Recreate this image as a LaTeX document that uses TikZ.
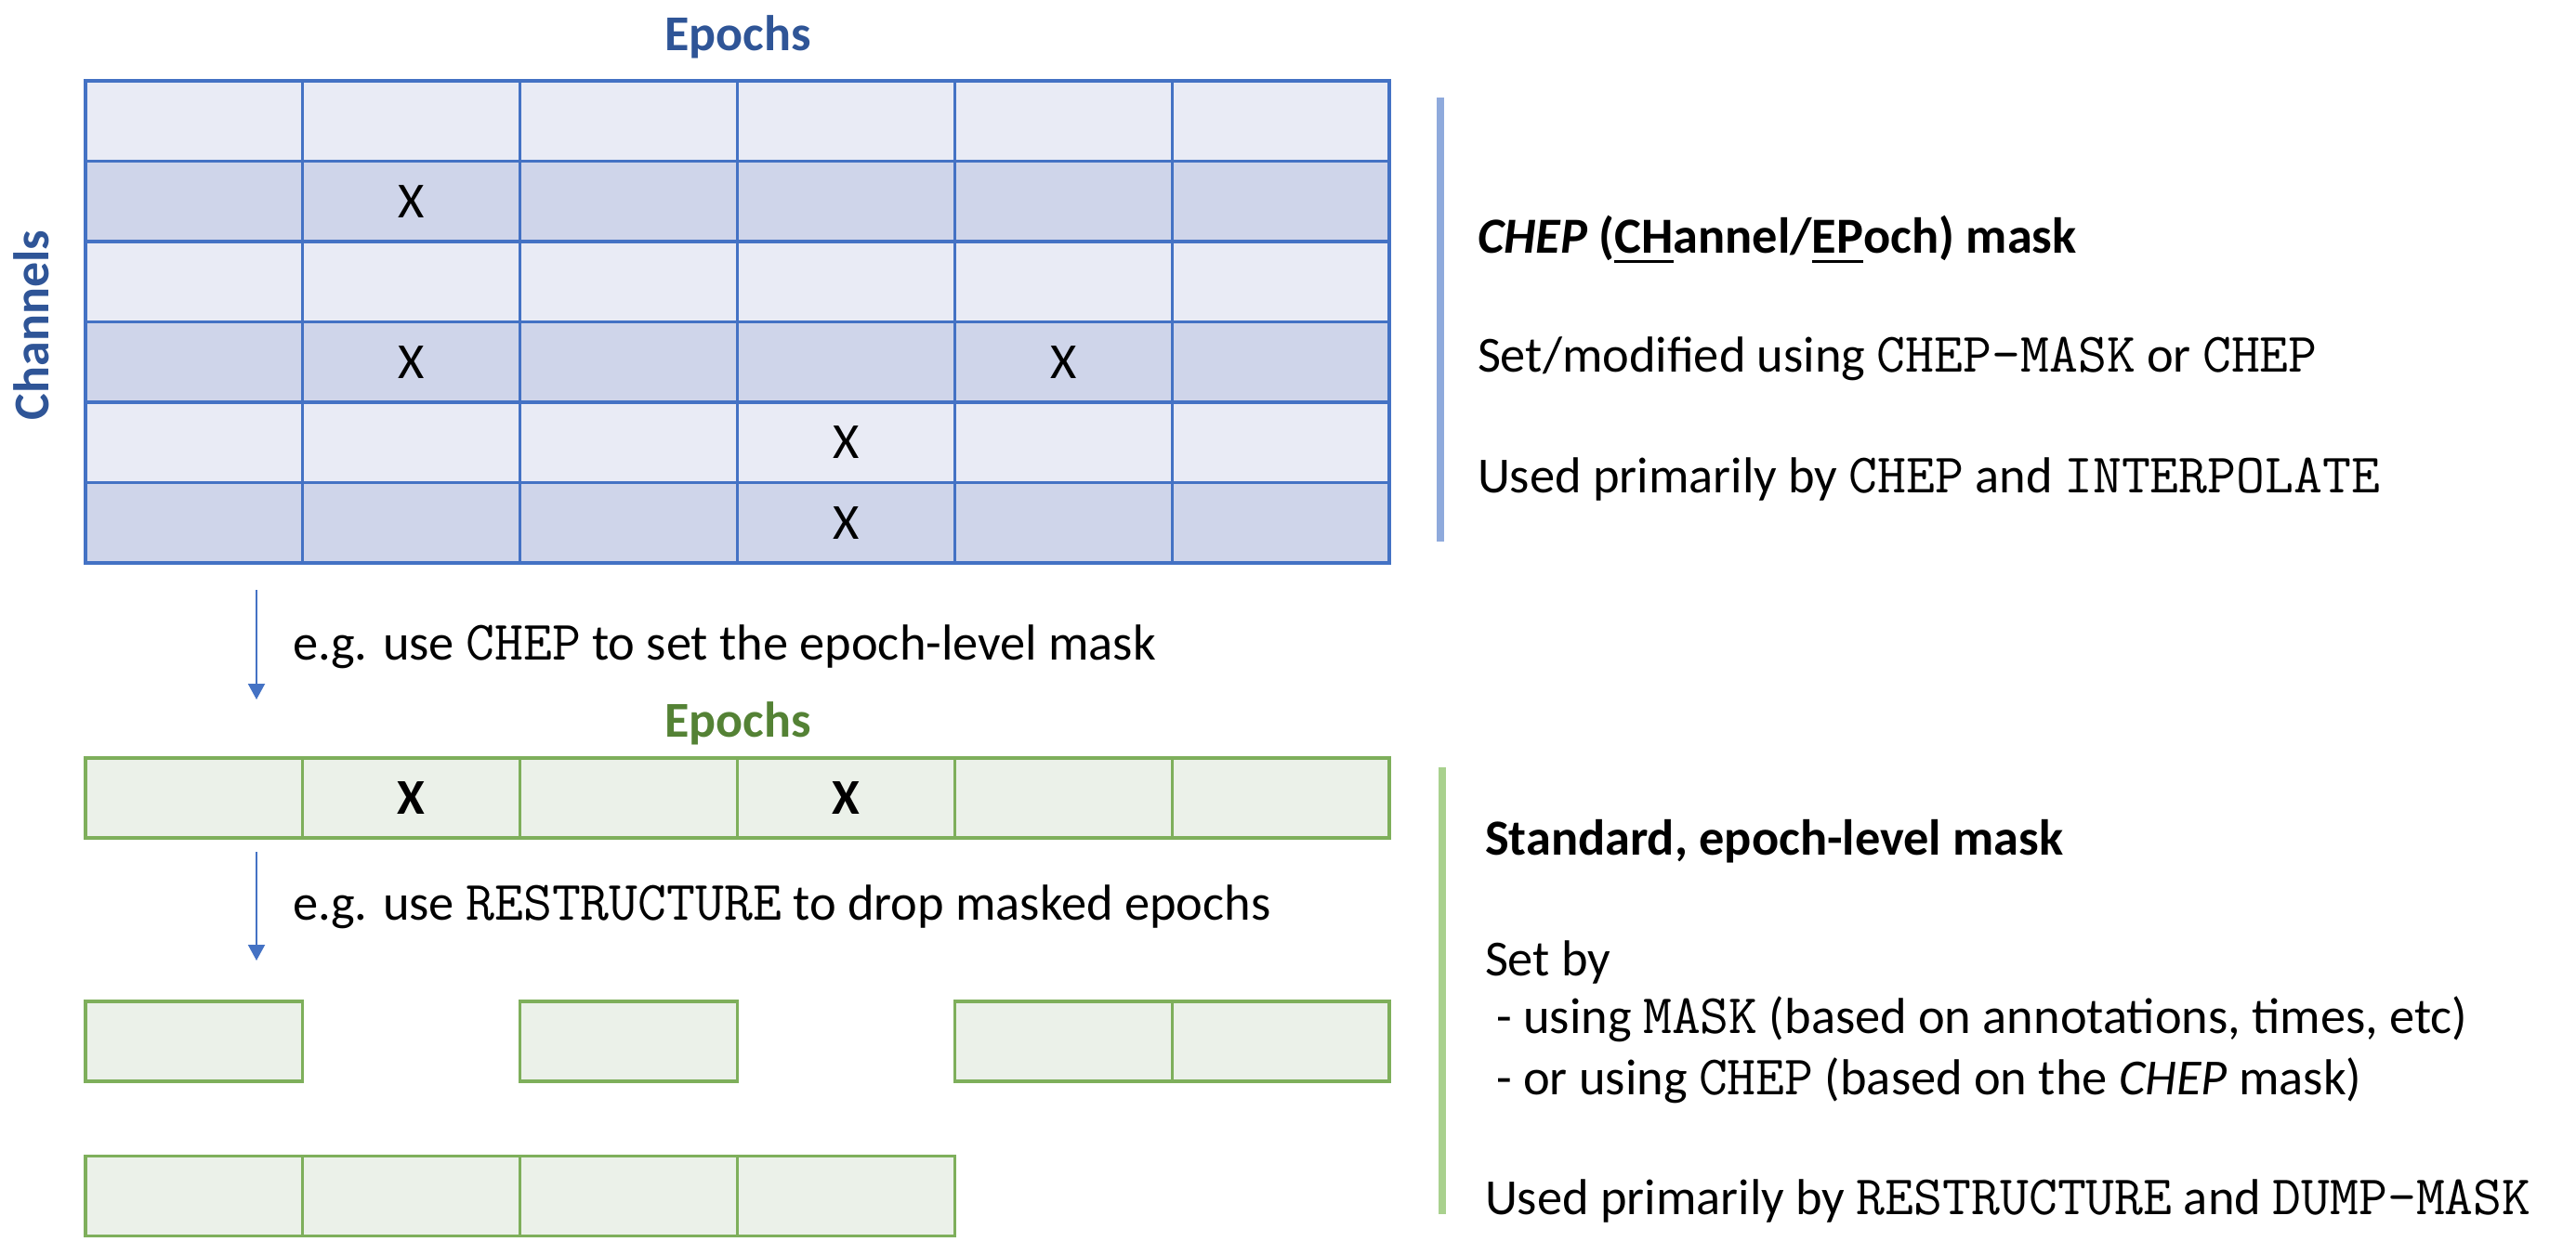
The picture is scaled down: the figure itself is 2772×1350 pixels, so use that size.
\documentclass[tikz,border=0pt]{standalone}
\usepackage{fontspec}
\setmainfont{Carlito}
\usetikzlibrary{arrows.meta}
\definecolor{gridblue}{HTML}{4472C4}
\definecolor{lightA}{HTML}{E9EBF5}
\definecolor{lightB}{HTML}{CFD5EA}
\definecolor{titleblue}{HTML}{2F5597}
\definecolor{gridgreen}{HTML}{7EAF5B}
\definecolor{greenfill}{HTML}{EBF1E9}
\definecolor{titlegreen}{HTML}{548235}
\definecolor{barblue}{HTML}{8FAADC}
\definecolor{bargreen}{HTML}{A9D18E}
\newcommand{\cmd}[1]{{\ttfamily\fontsize{30}{32}\selectfont #1}}
\newcommand{\ulx}[1]{\setbox0\hbox{#1}\rlap{\vrule height -4pt depth 5.6pt width \wd0}\box0}
\tikzset{
  txt/.style={font=\fontsize{27.2}{32}\selectfont, inner sep=0pt, outer sep=0pt},
  bcell/.style={draw=gridblue, line width=1.6pt, minimum width=116.9pt, minimum height=43.25pt, inner sep=0pt},
  gcell/.style={draw=gridgreen, line width=1.6pt, fill=greenfill, minimum width=116.9pt, minimum height=43pt, inner sep=0pt},
  flowarrow/.style={draw=gridblue, line width=1pt, -{Triangle[width=9pt,length=8.5pt]}},
  sidebar/.style={line width=4pt},
  linetext/.style={txt, anchor=base west},
  title/.style={txt, font=\fontsize{27}{32}\selectfont\bfseries},
}
\begin{document}
\begin{tikzpicture}[x=0.5pt,y=-0.5pt]
\useasboundingbox (0,0) rectangle (2772,1350);
% top CHEP grid
\foreach \r in {1,...,6}{
  \foreach \c in {1,...,6}{
    \ifodd\r\def\fc{lightA}\else\def\fc{lightB}\fi
    \node[bcell, fill=\fc] (t\r\c) at ({92+(\c-0.5)*233.83},{87+(\r-0.5)*86.5}) {};
  }
}
\node[title, text=titleblue, anchor=base] (epochsA) at (794,54) {Epochs};
\node[title, text=titleblue, rotate=90, anchor=base] (channels) at (52,350) {Channels};
\node[txt] (xa) at (t22.center) {X};
\node[txt] (xb) at (t42.center) {X};
\node[txt] (xc) at (t45.center) {X};
\node[txt] (xd) at (t54.center) {X};
\node[txt] (xe) at (t64.center) {X};

% side bar and text (top)
\coordinate (bbTop) at (1550,105);
\coordinate (bbBot) at (1550,583);
\draw[sidebar, barblue] (bbTop) -- (bbBot);
\node[linetext] (chepT) at (1590,272) {\textbf{\textit{CHEP} (\ulx{CH}annel/\ulx{EP}och) mask}};
\node[linetext] (chepS) at (1590,400) {Set/modified using \cmd{CHEP-MASK} or \cmd{CHEP}};
\node[linetext] (chepU) at (1590,530) {Used primarily by \cmd{CHEP} and \cmd{INTERPOLATE}};

% arrow 1
\coordinate (a1s) at (276,635);
\coordinate (a1e) at (276,753);
\draw[flowarrow] (a1s) -- (a1e);
\node[linetext] (lab1) at (315,710) {e.g. use \cmd{CHEP} to set the epoch-level mask};

% green epoch row
\node[title, text=titlegreen, anchor=base] (epochsB) at (794,793) {Epochs};
\foreach \c in {1,...,6}{
  \node[gcell] (g\c) at ({92+(\c-0.5)*233.83},859) {};
}
\node[title] (gx1) at (g2.center) {X};
\node[title] (gx2) at (g4.center) {X};

% arrow 2
\coordinate (a2s) at (276,917);
\coordinate (a2e) at (276,1034);
\draw[flowarrow] (a2s) -- (a2e);
\node[linetext] (lab2) at (315,990) {e.g. use \cmd{RESTRUCTURE} to drop masked epochs};

% remaining epochs (gapped)
\foreach \c in {1,3,5,6}{
  \node[gcell] (h\c) at ({92+(\c-0.5)*233.83},1121) {};
}
% restructured
\foreach \c in {1,...,4}{
  \node[gcell] (k\c) at ({92+(\c-0.5)*233.83},1287.5) {};
}

% side bar and text (bottom)
\coordinate (gbTop) at (1552,826);
\coordinate (gbBot) at (1552,1307);
\draw[sidebar, bargreen] (gbTop) -- (gbBot);
\node[linetext] (stdT) at (1598,920) {\textbf{Standard, epoch-level mask}};
\node[linetext] (stdS) at (1598,1050) {Set by};
\node[linetext] (stdA) at (1598,1112) {\ - using \cmd{MASK} (based on annotations, times, etc)};
\node[linetext] (stdB) at (1598,1178) {\ - or using \cmd{CHEP} (based on the \textit{CHEP} mask)};
\node[linetext] (stdU) at (1598,1307) {Used primarily by \cmd{RESTRUCTURE} and \cmd{DUMP-MASK}};
\end{tikzpicture}
\end{document}
